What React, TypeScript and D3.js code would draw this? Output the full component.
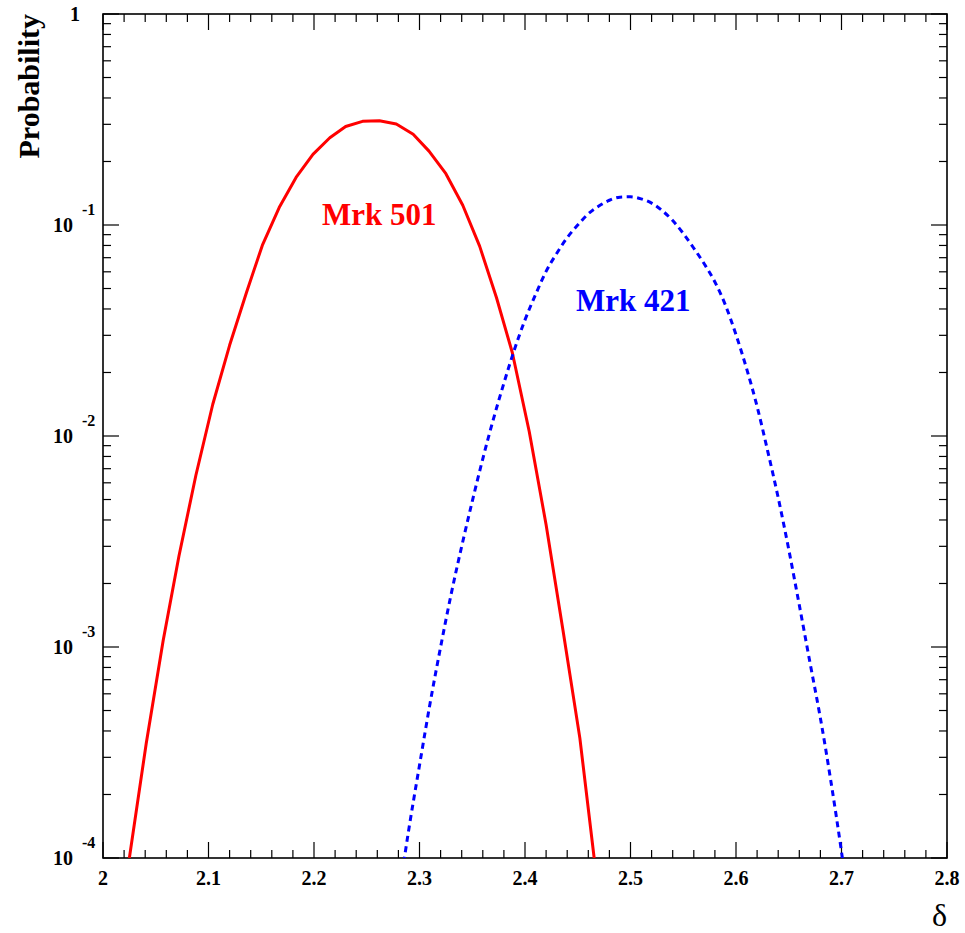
import React from 'react';
import * as d3 from 'd3';

// Mrk 501 (solid red)
const mrk501Delta = [2.025, 2.041, 2.057, 2.072, 2.088, 2.104, 2.120, 2.136, 2.151, 2.167, 2.183, 2.199, 2.215, 2.230, 2.246,
    2.262, 2.278, 2.294, 2.309, 2.325, 2.341, 2.357, 2.373, 2.388, 2.404, 2.420, 2.436, 2.452, 2.467];
const mrk501Prob = [1.0e-4, 3.5e-4, 1.07e-3, 2.7e-3, 6.5e-3, 0.0141, 0.0269, 0.0479, 0.0800, 0.121, 0.168, 0.216, 0.259, 0.293, 0.310,
    0.312, 0.301, 0.269, 0.224, 0.175, 0.124, 0.0794, 0.0452, 0.0248, 0.0105, 0.0038, 0.0012, 3.7e-4, 8.7e-5];

// Mrk 421 (dashed blue)
const mrk421Delta = [2.285, 2.29, 2.30, 2.31, 2.32, 2.33, 2.34, 2.35, 2.36, 2.37, 2.38, 2.39, 2.40, 2.41, 2.42, 2.43, 2.44, 2.45,
    2.46, 2.47, 2.48, 2.49, 2.50, 2.51, 2.52, 2.53, 2.54, 2.55, 2.56, 2.57, 2.58, 2.59, 2.60, 2.61, 2.62, 2.63, 2.64, 2.65,
    2.66, 2.67, 2.68, 2.69, 2.70, 2.705];
const mrk421Prob = [9.5e-5, 1.38e-4, 2.75e-4, 5.4e-4, 1.0e-3, 1.78e-3, 3.0e-3, 4.9e-3, 7.8e-3, 0.0120, 0.0178, 0.0257, 0.0355,
    0.0468, 0.0603, 0.0733, 0.0871, 0.100, 0.113, 0.123, 0.131, 0.1355, 0.136, 0.133, 0.127, 0.117, 0.105, 0.0912, 0.0776,
    0.0653, 0.0537, 0.0417, 0.0302, 0.0209, 0.0138, 8.5e-3, 5.1e-3, 2.9e-3, 1.58e-3, 8.5e-4, 4.6e-4, 2.3e-4, 1.07e-4, 7.1e-5];

const xTicks = [2, 2.1, 2.2, 2.3, 2.4, 2.5, 2.6, 2.7, 2.8];
const xTickLabels = ['2', '2.1', '2.2', '2.3', '2.4', '2.5', '2.6', '2.7', '2.8'];
const yDecades = [1, 1e-1, 1e-2, 1e-3, 1e-4];
const yExponents = ['', '-1', '-2', '-3', '-4'];

const W = 965, H = 933;
const frame = { left: 103, right: 947, top: 14, bottom: 858 };
const font = '"Liberation Serif", "Times New Roman", serif';

export default function App() {
    const x = d3.scaleLinear().domain([2, 2.8]).range([frame.left, frame.right]);
    const y = d3.scaleLog().domain([1e-4, 1]).range([frame.bottom, frame.top]);

    const red = d3.line<[number, number]>().x(d => x(d[0])).y(d => y(d[1])).curve(d3.curveLinear)(
        mrk501Delta.map((d, i) => [d, mrk501Prob[i]]));
    const blue = d3.line<[number, number]>().x(d => x(d[0])).y(d => y(d[1])).curve(d3.curveMonotoneX)(
        mrk421Delta.map((d, i) => [d, mrk421Prob[i]]));

    const xMinor = d3.range(0, 41).map(i => 2 + i * 0.02);
    const yMinor: number[] = [];
    [1e-4, 1e-3, 1e-2, 1e-1].forEach(dec => { for (let k = 2; k <= 9; k++) yMinor.push(dec * k); });

    const tick = { stroke: '#000', strokeWidth: 1.2 };

    return (
        <svg width={W} height={H} style={{ position: 'absolute', left: 0, top: 0, background: '#fff' }}>
            <defs>
                <clipPath id="plot">
                    <rect x={frame.left} y={frame.top} width={frame.right - frame.left} height={frame.bottom - frame.top} />
                </clipPath>
            </defs>

            {/* x ticks bottom and top */}
            {xMinor.map((v, i) => {
                const len = i % 5 === 0 ? 16 : 8;
                return (
                    <g key={'xt' + i}>
                        <line x1={x(v)} x2={x(v)} y1={frame.bottom} y2={frame.bottom - len} {...tick} />
                        <line x1={x(v)} x2={x(v)} y1={frame.top} y2={frame.top + len} {...tick} />
                    </g>
                );
            })}
            {/* y ticks left and right */}
            {yDecades.map((v, i) => (
                <g key={'yd' + i}>
                    <line x1={frame.left} x2={frame.left + 16} y1={y(v)} y2={y(v)} {...tick} />
                    <line x1={frame.right} x2={frame.right - 16} y1={y(v)} y2={y(v)} {...tick} />
                </g>
            ))}
            {yMinor.map((v, i) => (
                <g key={'ym' + i}>
                    <line x1={frame.left} x2={frame.left + 8} y1={y(v)} y2={y(v)} {...tick} />
                    <line x1={frame.right} x2={frame.right - 8} y1={y(v)} y2={y(v)} {...tick} />
                </g>
            ))}

            <rect x={frame.left} y={frame.top} width={frame.right - frame.left} height={frame.bottom - frame.top}
                fill="none" stroke="#000" strokeWidth={1.6} />

            {/* x labels */}
            {xTicks.map((v, i) => (
                <text key={'xl' + i} x={x(v)} y={885} textAnchor="middle" fontFamily={font} fontWeight="bold" fontSize={20}>
                    {xTickLabels[i]}
                </text>
            ))}
            {/* y labels */}
            {yDecades.map((v, i) => i === 0 ? (
                <text key={'yl' + i} x={80} y={y(v) + 7} textAnchor="end" fontFamily={font} fontWeight="bold" fontSize={20}>1</text>
            ) : (
                <g key={'yl' + i}>
                    <text x={73} y={y(v) + 7} textAnchor="end" fontFamily={font} fontWeight="bold" fontSize={20}>10</text>
                    <text x={82} y={y(v) - 10} fontFamily={font} fontWeight="bold" fontSize={16}>{yExponents[i]}</text>
                </g>
            ))}

            <text transform={`translate(39,${frame.top}) rotate(-90)`} textAnchor="end" fontFamily={font} fontWeight="bold" fontSize={30}>
                Probability
            </text>
            <text x={frame.right} y={926} textAnchor="end" fontFamily={font} fontSize={32}>δ</text>

            <g clipPath="url(#plot)">
                <path d={red || ''} fill="none" stroke="#ff0000" strokeWidth={3} strokeLinejoin="round" />
                <path d={blue || ''} fill="none" stroke="#0000ff" strokeWidth={3} strokeDasharray="6,4.5" />
            </g>

            <text x={322} y={225} fontFamily={font} fontWeight="bold" fontSize={31} fill="#ff0000">Mrk 501</text>
            <text x={576} y={311} fontFamily={font} fontWeight="bold" fontSize={31} fill="#0000ff">Mrk 421</text>
        </svg>
    );
}
